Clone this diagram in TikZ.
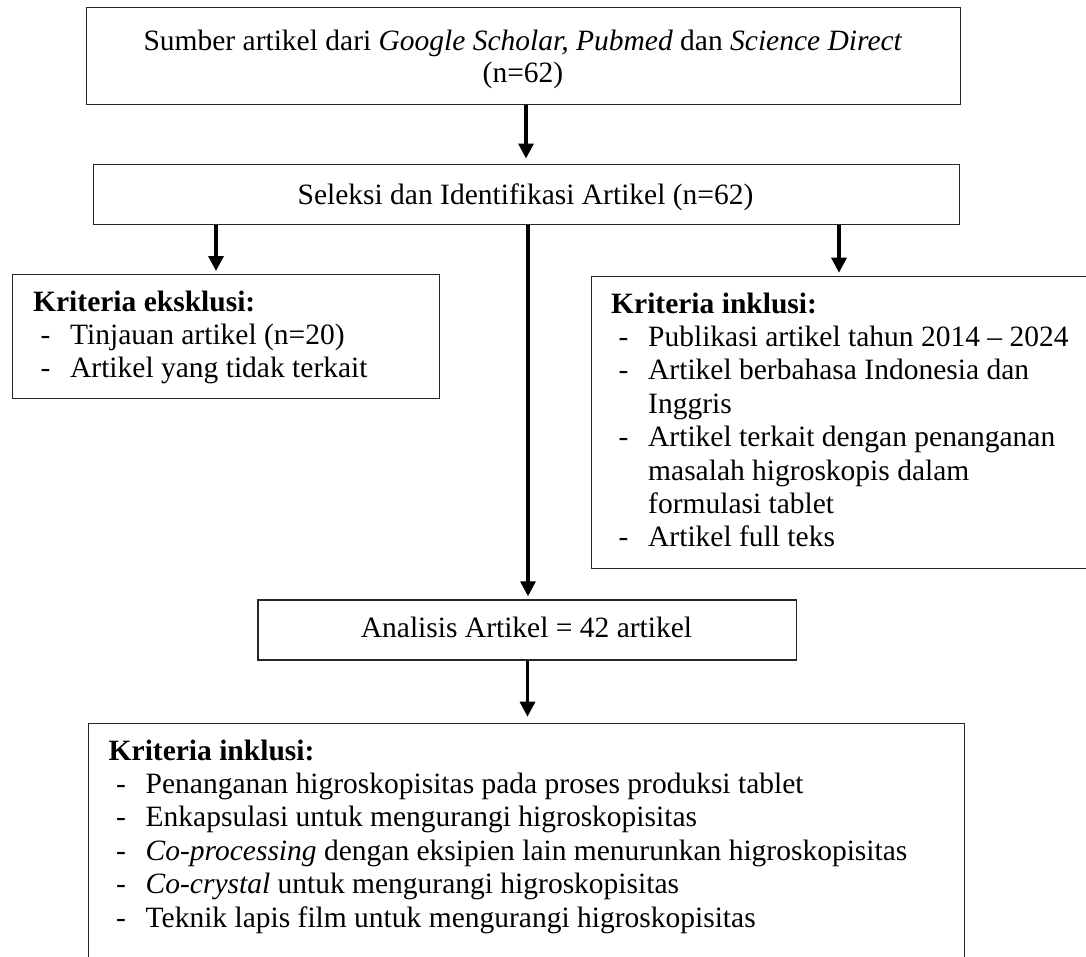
\documentclass[tikz,border=0pt]{standalone}
\usepackage{fontspec}
\setmainfont{Liberation Serif}
\usetikzlibrary{arrows.meta}
\newcommand{\lineitem}[1]{\hbox{\hspace*{7.5pt}\makebox[29.5pt][l]{-}#1}}
\newcommand{\linecont}[1]{\hbox{\hspace*{37pt}#1}}
\begin{document}
\begin{tikzpicture}[x=1pt,y=1pt,
  box/.style={draw=black!85, line width=1.3pt, rectangle, inner sep=0pt, anchor=north west},
  txt/.style={inner sep=0pt, font=\fontsize{29.5pt}{33.4pt}\selectfont},
  arr/.style={line width=3.2pt, -{Triangle[length=15pt,width=15pt]}}]
\useasboundingbox (0,0) rectangle (1086,-956);
\clip (0,0) rectangle (1086,-956);
% boxes
\node[box, minimum width=874.5pt, minimum height=97pt] (b1) at (85.5,-7) {};
\node[box, minimum width=866pt, minimum height=60pt] (b2) at (92.5,-164) {};
\node[box, minimum width=427pt, minimum height=124pt] (ex) at (12,-274) {};
\node[box, minimum width=509.3pt, minimum height=292.3pt] (in1) at (590.7,-275.7) {};
\node[box, minimum width=538.4pt, minimum height=60pt] (an) at (257.4,-599.3) {};
\node[box, minimum width=876pt, minimum height=290pt] (in2) at (87.7,-722.7) {};
% texts
\node[txt, anchor=base] (t1) at (523,-50) {\fontsize{29.5pt}{32pt}\selectfont\vtop{\hbox to 900pt{\hfil Sumber artikel dari \textit{Google Scholar, Pubmed} dan \textit{Science Direct}\hfil}\hbox to 900pt{\hfil (n=62)\hfil}}};
\node[txt, anchor=base] (t2) at (525.5,-204) {Seleksi dan Identifikasi Artikel (n=62)};
\node[txt, anchor=base west] (tex) at (33,-311) {\vtop{\hbox{\textbf{Kriteria eksklusi:}}
  \lineitem{Tinjauan artikel (n=20)}
  \lineitem{Artikel yang tidak terkait}}};
\node[txt, anchor=base west] (tin1) at (611,-313) {\vtop{\hbox{\textbf{Kriteria inklusi:}}
  \lineitem{Publikasi artikel tahun 2014 – 2024}
  \lineitem{Artikel berbahasa Indonesia dan}
  \linecont{Inggris}
  \lineitem{Artikel terkait dengan penanganan}
  \linecont{masalah higroskopis dalam}
  \linecont{formulasi tablet}
  \lineitem{Artikel full teks}}};
\node[txt, anchor=base] (tan) at (526.5,-637) {Analisis Artikel = 42 artikel};
\node[txt, anchor=base west] (tin2) at (108.5,-760) {\vtop{\hbox{\textbf{Kriteria inklusi:}}
  \lineitem{Penanganan higroskopisitas pada proses produksi tablet}
  \lineitem{Enkapsulasi untuk mengurangi higroskopisitas}
  \lineitem{\textit{Co-processing} dengan eksipien lain menurunkan higroskopisitas}
  \lineitem{\textit{Co-crystal} untuk mengurangi higroskopisitas}
  \lineitem{Teknik lapis film untuk mengurangi higroskopisitas}}};
% connectors
\draw[arr, shorten >=5.5pt] (b1.south -| 526,0) -- (b2.north -| 526,0);
\draw[arr, shorten >=3pt] (b2.south -| 216,0) -- (ex.north -| 216,0);
\draw[arr, shorten >=3pt] (b2.south -| 528,0) -- (an.north -| 528,0);
\draw[arr, shorten >=3pt] (b2.south -| 839,0) -- (in1.north -| 839,0);
\draw[arr, shorten >=6pt] (an.south -| 527.5,0) -- (in2.north -| 527.5,0);
\end{tikzpicture}
\end{document}
